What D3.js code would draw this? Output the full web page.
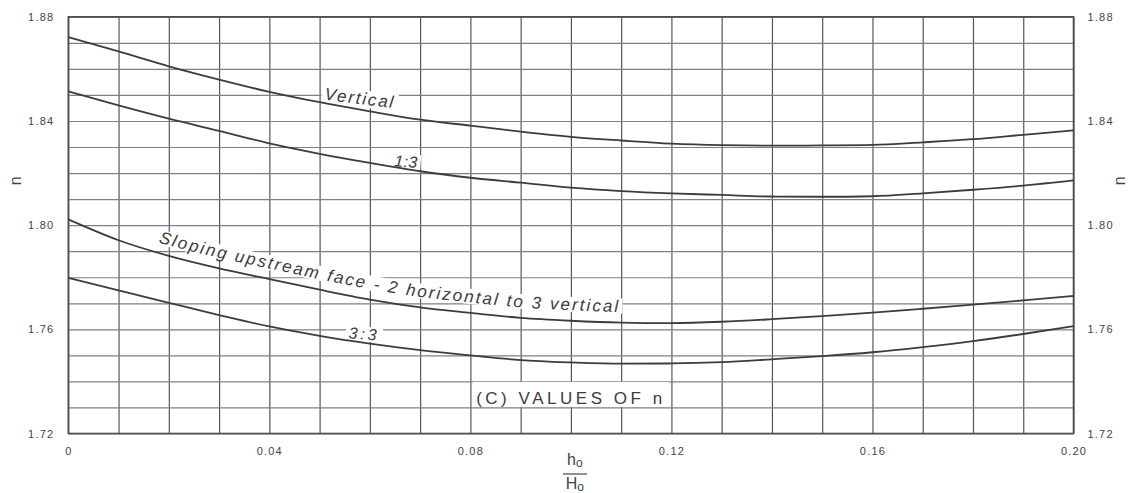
<!DOCTYPE html>
<html><head><meta charset="utf-8">
<script src="https://cdn.jsdelivr.net/npm/d3@7"></script>
<style>body{margin:0;background:#fff}svg{display:block}</style>
</head><body><svg id="c" width="1134" height="493"></svg>
<script>
// ---------- data ----------
const xValues   = [0,0.01,0.02,0.03,0.04,0.05,0.06,0.07,0.08,0.09,0.10,0.11,0.12,0.13,0.14,0.15,0.16,0.17,0.18,0.19,0.20];
const nVertical = [1.8722,1.8667,1.8610,1.8559,1.8512,1.8472,1.8437,1.8405,1.8382,1.8359,1.8339,1.8325,1.8313,1.8307,1.8305,1.8306,1.8308,1.8318,1.8330,1.8347,1.8364];
const n13       = [1.8514,1.8460,1.8409,1.8362,1.8314,1.8274,1.8239,1.8207,1.8182,1.8163,1.8144,1.8131,1.8122,1.8116,1.8110,1.8109,1.8111,1.8122,1.8136,1.8152,1.8172];
const nSloping  = [1.8022,1.7942,1.7882,1.7834,1.7793,1.7752,1.7714,1.7684,1.7663,1.7644,1.7633,1.7626,1.7624,1.7629,1.7639,1.7651,1.7664,1.7679,1.7695,1.7711,1.7728];
const n33       = [1.7798,1.7750,1.7702,1.7655,1.7611,1.7575,1.7545,1.7520,1.7500,1.7482,1.7473,1.7468,1.7469,1.7474,1.7485,1.7497,1.7512,1.7532,1.7555,1.7582,1.7612];
const seriesLabels = ["Vertical","1:3","Sloping upstream face - 2 horizontal to 3 vertical","3:3"];
const xTicks      = [0,0.04,0.08,0.12,0.16,0.20];
const xTickLabels = ["0","0.04","0.08","0.12","0.16","0.20"];
const yTicks      = [1.72,1.76,1.80,1.84,1.88];
const yTickLabels = ["1.72","1.76","1.80","1.84","1.88"];
const yGrid = [1.72,1.73,1.74,1.75,1.76,1.77,1.78,1.79,1.80,1.81,1.82,1.83,1.84,1.85,1.86,1.87,1.88];
const xGrid = xValues;
const chartTitle = "(C) VALUES OF n";
const yAxisTitle = "n";

// ---------- layout ----------
const L = 68.3, R = 1073.5, T = 16.8, B = 433.5;
const svg = d3.select("#c");
const x = d3.scaleLinear().domain([0,0.20]).range([L,R]);
const y = d3.scaleLinear().domain([1.72,1.88]).range([B,T]);
const FONT = "'Liberation Sans', Arial, sans-serif";
const ink = "#3b3b42";

// gridlines
const gv = svg.append("g").attr("transform",`translate(0,${B})`)
  .call(d3.axisBottom(x).tickValues(xGrid).tickSize(-(B-T)).tickFormat(""));
gv.select(".domain").remove();
gv.selectAll("line").attr("stroke","#56565f").attr("stroke-width",1.2);
const gh = svg.append("g").attr("transform",`translate(${L},0)`)
  .call(d3.axisLeft(y).tickValues(yGrid).tickSize(-(R-L)).tickFormat(""));
gh.select(".domain").remove();
gh.selectAll("line").attr("stroke","#7e7e8e").attr("stroke-width",1.2);

// frame
svg.append("rect").attr("x",L).attr("y",T).attr("width",R-L).attr("height",B-T)
  .attr("fill","none").attr("stroke","#4e4e56").attr("stroke-width",1.6);

// chart title box (white background)
svg.append("rect").attr("x",x(0.0805)).attr("y",y(1.7398)).attr("width",x(0.1195)-x(0.0805)).attr("height",y(1.7302)-y(1.7398)).attr("fill","#fff");
const tt = svg.append("text").attr("x",x(0.1)).attr("y",y(1.7312)).attr("text-anchor","middle")
  .attr("font-family",FONT).attr("font-size",17).attr("fill",ink).text(chartTitle);
(function(){const n=tt.node();const l=n.getComputedTextLength();tt.attr("letter-spacing",(186-l)/(chartTitle.length-1));})();

function fitSpacing(sel, target){
  const n = sel.node(); const l = n.getComputedTextLength();
  const str = sel.text(); sel.attr("letter-spacing", (target-l)/(str.length-1));
}
function boxedLabel(txt, xv, nv, angle, size, width){
  const g = svg.append("g").attr("transform",`translate(${x(xv)},${y(nv)}) rotate(${angle})`);
  const t = g.append("text").attr("font-family",FONT).attr("font-style","italic").attr("font-size",size)
    .attr("fill",ink).text(txt);
  fitSpacing(t,width);
  const bb = t.node().getBBox();
  g.insert("rect","text").attr("x",bb.x-3).attr("y",bb.y+1).attr("width",bb.width+6).attr("height",bb.height-2).attr("fill","#fff");
}
boxedLabel(seriesLabels[0], 0.0509, 1.8482, 7, 17, 69);
boxedLabel(seriesLabels[1], 0.0648, 1.8226, 4, 16, 23);
boxedLabel(seriesLabels[3], 0.0557, 1.7566, 5, 16, 28);

// sloping label along curve
const slData = xValues.map((v,i)=>[v,nSloping[i]]);
const offPath = d3.line().x(d=>x(d[0])).y(d=>y(d[1])-10.5).curve(d3.curveMonotoneX);
const bandPath = d3.line().x(d=>x(d[0])).y(d=>y(d[1])-16.5).curve(d3.curveMonotoneX);
const sp = svg.append("path").attr("id","slp").datum(slData).attr("d",offPath)
  .attr("fill","none").attr("stroke","none");
const spn = sp.node(); const tot = spn.getTotalLength();
let startL = 0; for(let l=0;l<tot;l+=0.5){ if(spn.getPointAtLength(l).x>=158){startL=l;break;} }
let endL = tot; for(let l=startL;l<tot;l+=0.5){ if(spn.getPointAtLength(l).x>=618){endL=l;break;} }
svg.insert("path","#slp").datum(slData).attr("d",bandPath).attr("fill","none").attr("stroke","#fff")
  .attr("stroke-width",15).attr("stroke-dasharray",`0 ${startL-2} ${endL-startL+6} ${tot*2}`);
const st = svg.append("text").attr("font-family",FONT).attr("font-style","italic").attr("font-size",17)
  .attr("fill",ink);
st.append("textPath").attr("href","#slp").attr("startOffset",startL).text(seriesLabels[2]);
(function(){const l=st.node().getComputedTextLength();st.attr("letter-spacing",(endL-startL-l)/(seriesLabels[2].length-1));})();

// curves (drawn over the label backgrounds)
const line = d3.line().x(d=>x(d[0])).y(d=>y(d[1])).curve(d3.curveMonotoneX);
const series = [nVertical,n13,nSloping,n33];
series.forEach(s=>{
  svg.append("path").datum(xValues.map((v,i)=>[v,s[i]])).attr("d",line)
    .attr("fill","none").attr("stroke",ink).attr("stroke-width",1.8);
});

// tick labels
const ax = svg.append("g").attr("transform",`translate(0,${B+11})`)
  .call(d3.axisBottom(x).tickValues(xTicks).tickSize(0).tickFormat((d,i)=>xTickLabels[i]));
ax.select(".domain").remove();
ax.selectAll("text").attr("font-family",FONT).attr("font-size",11).attr("fill","#444").attr("letter-spacing",1.2);
const ayl = svg.append("g").attr("transform",`translate(${L-11},0)`)
  .call(d3.axisLeft(y).tickValues(yTicks).tickSize(0).tickFormat((d,i)=>yTickLabels[i]));
ayl.select(".domain").remove();
ayl.selectAll("text").attr("font-family",FONT).attr("font-size",11).attr("fill","#444").attr("letter-spacing",1.2);
const ayr = svg.append("g").attr("transform",`translate(${R+11},0)`)
  .call(d3.axisRight(y).tickValues(yTicks).tickSize(0).tickFormat((d,i)=>yTickLabels[i]));
ayr.select(".domain").remove();
ayr.selectAll("text").attr("font-family",FONT).attr("font-size",11).attr("fill","#444").attr("letter-spacing",1.2);

// axis titles
[15,1119].forEach(px=>{
  svg.append("text").attr("transform",`translate(${px},${y(1.817)}) rotate(-90)`).attr("text-anchor","middle")
    .attr("dy","0.35em").attr("font-family",FONT).attr("font-size",16).attr("fill","#444").text(yAxisTitle);
});
const cx = x(0.10)+4;
const h1 = svg.append("text").attr("x",cx).attr("y",465).attr("text-anchor","middle").attr("font-family",FONT).attr("font-size",16).attr("fill","#444");
h1.append("tspan").text("h"); h1.append("tspan").attr("font-size",12).attr("dy",2).text("o");
svg.append("line").attr("x1",cx-12).attr("x2",cx+12).attr("y1",474).attr("y2",474).attr("stroke","#555").attr("stroke-width",1.3);
const h2 = svg.append("text").attr("x",cx).attr("y",489).attr("text-anchor","middle").attr("font-family",FONT).attr("font-size",16).attr("fill","#444");
h2.append("tspan").text("H"); h2.append("tspan").attr("font-size",12).attr("dy",2).text("o");
</script></body></html>
